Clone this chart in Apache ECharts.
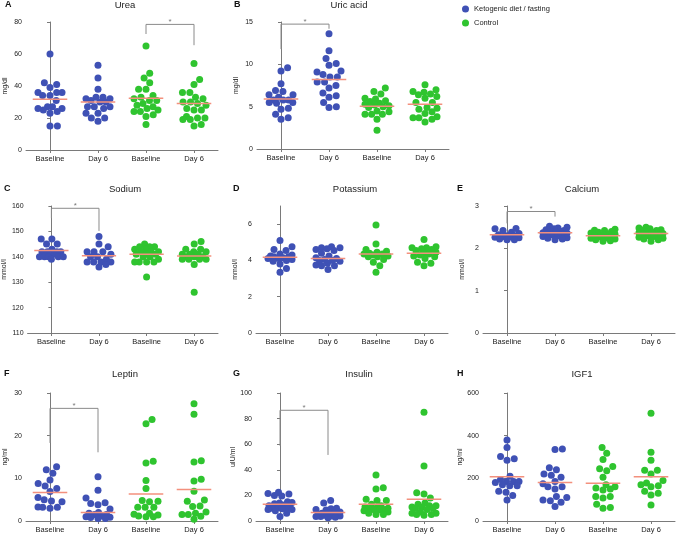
<!DOCTYPE html>
<html><head><meta charset="utf-8">
<script src="https://cdn.jsdelivr.net/npm/echarts@6/dist/echarts.min.js"></script>
<style>html,body{margin:0;padding:0;background:#fff}#c{width:676px;height:535px}</style>
</head><body><div id="c"></div>
<script>
// ---------- data ----------
const categories = ['Baseline', 'Day 6', 'Baseline', 'Day 6'];
const groupNames = ['Ketogenic diet / fasting', 'Control'];

const urea = [
  [60,42,41,39,36,36,36,34,34,31,27,27,26,26,25,24,23,15,15],
  [53,45,38,33,33,32,32,31,30,30,27,27,27,26,23,23,20,20,18],
  [65,48,45,42,38,38,34,33,32,31,31,29,28,27,26,25,24,24,22,21,16],
  [54,44,41,36,36,33,32,30,30,29,28,26,25,25,21,20,20,19,19,16,15]
];
const ureaMeans = [31.7, 30.0, 32.4, 29.0];
const ureaSig = [2, 3, 78.5, 72.5, 65.5];

const uric = [
  [9.6,9.2,7.7,6.9,6.8,6.4,6.4,6.1,5.8,5.8,5.8,5.5,5.5,5.4,4.8,4.7,4.1,3.7,3.5],
  [13.6,11.6,10.7,10.1,9.9,9.2,9.1,8.8,8.5,8.5,7.9,7.9,7.5,7.2,6.6,6.3,6.1,5.5,5.0,4.9],
  [7.2,6.8,6.5,6.0,5.9,5.7,5.6,5.4,5.3,5.2,5.1,5.0,4.9,4.5,4.4,4.1,4.1,4.1,3.5,2.2],
  [7.6,7.0,6.8,6.7,6.5,6.4,6.2,6.0,5.5,5.5,4.9,4.8,4.7,4.4,4.2,3.8,3.7,3.7,3.5,3.2]
];
const uricMeans = [5.9, 8.2, 5.05, 5.3];
const uricSig = [0, 1, 14.75, 11.8, 14.2];

const sodium = [
  [147,147,145,145,143,142,142,142,142,141,140,140,140,140,140,139],
  [148,145,144,142,142,142,141,140,140,139,138,138,138,138,137,136],
  [145,144,144,144,143,143,142,142,142,141,141,141,140,140,139,138,138,138,138,132],
  [146,145,143,143,142,142,141,141,141,140,140,140,139,139,139,139,137,126]
];
const sodiumMeans = [142.5, 140.4, 141, 140.3];
const sodiumSig = [0, 1, 159.1, 155.2, 150.2];

const potassium = [
  [5.1,4.75,4.6,4.55,4.35,4.3,4.25,4.2,4.2,4.15,4.1,4.1,4.05,4.0,3.95,3.8,3.55,3.35],
  [4.75,4.7,4.7,4.65,4.6,4.55,4.4,4.25,4.15,4.1,4.05,4.0,4.0,3.95,3.85,3.75,3.7,3.7,3.5],
  [5.95,4.9,4.6,4.5,4.45,4.4,4.35,4.35,4.3,4.25,4.2,4.2,4.05,3.9,3.7,3.35],
  [5.15,4.75,4.7,4.7,4.65,4.6,4.55,4.45,4.4,4.35,4.3,4.25,4.2,4.1,3.9,3.85,3.7]
];
const potassiumMeans = [4.18, 4.1, 4.35, 4.4];
const potassiumTicks = [0, 2, 4, 6];

const calcium = [
  [2.47,2.46,2.42,2.38,2.35,2.32,2.30,2.30,2.28,2.27,2.26,2.25,2.22,2.20,2.20],
  [2.52,2.50,2.48,2.46,2.44,2.42,2.40,2.40,2.38,2.37,2.36,2.35,2.33,2.32,2.30,2.28,2.25,2.24,2.22,2.20],
  [2.45,2.43,2.42,2.40,2.38,2.36,2.34,2.33,2.31,2.30,2.28,2.27,2.25,2.24,2.22,2.20,2.18,2.17],
  [2.50,2.48,2.46,2.44,2.43,2.42,2.40,2.38,2.37,2.35,2.33,2.32,2.30,2.28,2.26,2.24,2.22,2.20,2.17]
];
const calciumMeans = [2.32, 2.37, 2.30, 2.35];
const calciumSig = [0, 1, 2.87, 2.59, 2.75];

const leptin = [
  [12.7,12.0,11.2,9.6,8.8,8.2,7.6,6.9,5.5,5.0,4.7,4.5,3.3,3.2,3.0,3.2],
  [10.4,7.2,5.4,4.3,4.1,3.8,2.8,2.0,1.8,1.5,1.5,1.2,1.0,0.9,0.8,0.6,0.6],
  [23.8,22.8,14.0,13.6,9.5,7.6,4.8,4.6,4.5,3.2,3.2,3.2,1.8,1.6,1.4,1.2,1.0,1.0],
  [27.5,25.0,14.1,13.8,9.8,9.4,7.0,4.9,4.6,3.5,3.4,2.1,1.8,1.5,1.5,1.1,0.4]
];
const leptinMeans = [6.7, 2.0, 6.3, 7.4];
const leptinSig = [0, 1, 26.4, 18.3, 16.1];

const insulin = [
  [22.5,21.5,21.0,20.0,19.5,15.0,14.5,14.0,13.5,12.5,12.0,11.0,10.5,10.0,10.0,9.5,9.0,9.0,8.0,6.0,3.5],
  [16,14,10,9.5,9,8.5,7,6,6,5.5,5,5,4.5,4,4,3.5,3.5,3.0,2.5],
  [36,26,25,17,16,16,13,12,11,10,10,9.5,9,9,8.5,8,7,6,5,5],
  [85,43,22,21,18,14,13,12,12,11,11,10,10,9,7,6,6,5,5,4.5]
];
const insulinMeans = [13, 6.6, 13, 17];
const insulinSig = [0, 1, 86.5, 58.8, 51.6];

const igf1 = [
  [380,345,302,292,285,210,195,185,185,185,180,170,165,165,140,135,120,98],
  [338,335,250,240,220,215,205,185,175,160,160,150,115,110,98,95,88,68],
  [345,318,288,255,245,235,205,170,160,155,150,145,115,115,108,78,63,60],
  [505,322,285,238,238,220,190,178,170,165,160,140,130,122,75]
];
const igf1Means = [208, 180, 177, 208];

// ---------- layout ----------
const panels = [
  {letter:'A', title:'Urea', unit:'mg/dl', min:0, max:80, interval:20, data:urea, means:ureaMeans, sig:ureaSig,
   grid:{left:26, top:22, width:192, height:128}, tx:125, lx:5, ty:5},
  {letter:'B', title:'Uric acid', unit:'mg/dl', min:0, max:15, interval:5, data:uric, means:uricMeans, sig:uricSig,
   grid:{left:257, top:22, width:192, height:127}, tx:349, lx:234, ty:5},
  {letter:'C', title:'Sodium', unit:'mmol/l', min:110, max:160, interval:10, data:sodium, means:sodiumMeans, sig:sodiumSig,
   grid:{left:26, top:206, width:192, height:127}, tx:125, lx:4, ty:189},
  {letter:'D', title:'Potassium', unit:'mmol/l', min:0, max:7, ticks:potassiumTicks, data:potassium, means:potassiumMeans, sig:null,
   grid:{left:256, top:206, width:192, height:127}, tx:355, lx:233, ty:189},
  {letter:'E', title:'Calcium', unit:'mmol/l', min:0, max:3, interval:1, data:calcium, means:calciumMeans, sig:calciumSig,
   grid:{left:483, top:206, width:192, height:127}, tx:582, lx:457, ty:189},
  {letter:'F', title:'Leptin', unit:'ng/ml', min:0, max:30, interval:10, data:leptin, means:leptinMeans, sig:leptinSig,
   grid:{left:26, top:393, width:192, height:128}, tx:125, lx:4, ty:374},
  {letter:'G', title:'Insulin', unit:'uIU/ml', min:0, max:100, interval:20, data:insulin, means:insulinMeans, sig:insulinSig,
   grid:{left:256, top:393, width:192, height:128}, tx:359, lx:233, ty:374},
  {letter:'H', title:'IGF1', unit:'ng/ml', min:0, max:600, interval:200, data:igf1, means:igf1Means, sig:null,
   grid:{left:483, top:393, width:192, height:128}, tx:582, lx:457, ty:374}
];

const BLUE = '#3F51B5', GREEN = '#2FC42F', MEAN = '#F3907D', AXIS = '#7a7a7a';
const DOT = 7;
const MAXW = 12;   // max horizontal spread of a swarm, px
const FONT = 'Liberation Sans, Arial, sans-serif';

// beeswarm offsets (pixels) computed from values, limited to +-MAXW
function swarm(vals, pxPerUnit, d, maxW) {
  const idx = vals.map((v, i) => i).sort((a, b) => vals[a] - vals[b]);
  const placed = [], xs = new Array(vals.length);
  const minDist = (c, y) => placed.reduce((m, p) => Math.min(m, Math.hypot(p.x - c, p.y - y)), Infinity);
  for (const i of idx) {
    const y = vals[i] * pxPerUnit;
    const cands = [0];
    for (const p of placed) {
      const dy = Math.abs(p.y - y);
      if (dy < d) { const dx = Math.sqrt(d * d - dy * dy); cands.push(p.x + dx, p.x - dx); }
    }
    cands.sort((a, b) => Math.abs(a) - Math.abs(b) || b - a);
    let best = null;
    for (const c of cands) {
      if (Math.abs(c) > maxW + 1e-6) continue;
      if (minDist(c, y) >= d - 1e-6) { best = c; break; }
    }
    if (best === null) {
      let bd = -1;
      for (let c = -maxW; c <= maxW + 1e-6; c += 0.5) {
        const md = minDist(c, y);
        if (md > bd + 1e-6) { bd = md; best = c; }
      }
    }
    placed.push({x: best, y}); xs[i] = best;
  }
  return xs;
}

const grids = [], xAxes = [], yAxes = [], series = [], graphics = [];
panels.forEach((p, k) => {
  grids.push(Object.assign({containLabel:false}, p.grid));
  const catW = p.grid.width / 4;
  xAxes.push({
    gridIndex:k, type:'value', min:-0.5, max:3.5,
    splitLine:{show:false},
    axisLine:{show:true, lineStyle:{color:AXIS, width:1}},
    axisTick:{show:true, length:3, customValues:[0,1,2,3], lineStyle:{color:AXIS}},
    axisLabel:{customValues:[0,1,2,3], formatter:v => categories[Math.round(v)],
      fontSize:7.5, color:'#222', margin:5, fontFamily:FONT}
  });
  const yl = {fontSize:7, color:'#222', margin:4, fontFamily:FONT};
  const yt = {show:true, length:3, lineStyle:{color:AXIS}};
  if (p.ticks) { yl.customValues = p.ticks; yt.customValues = p.ticks; }
  yAxes.push({
    gridIndex:k, type:'value', min:p.min, max:p.max, interval:p.interval,
    name:p.unit, nameLocation:'middle', nameRotate:90, nameGap:17,
    nameTextStyle:{fontSize:7, color:'#222', fontFamily:FONT},
    splitLine:{show:false},
    axisLine:{show:true, lineStyle:{color:AXIS, width:1}},
    axisTick:yt, axisLabel:yl
  });
  const ppu = p.grid.height / (p.max - p.min);
  const pts = [[], []];
  p.data.forEach((vals, g) => {
    const offs = swarm(vals, ppu, DOT + 0.4, MAXW);
    vals.forEach((v, i) => pts[g < 2 ? 0 : 1].push([g + offs[i] / catW, v]));
  });
  [0, 1].forEach(s => series.push({
    type:'scatter', name:groupNames[s], xAxisIndex:k, yAxisIndex:k,
    data:pts[s], symbolSize:DOT, itemStyle:{color:s ? GREEN : BLUE, opacity:1},
    z:2, silent:true
  }));
  p.means.forEach((m, g) => series.push({
    type:'line', xAxisIndex:k, yAxisIndex:k, data:[[g - 0.36, m], [g + 0.36, m]],
    showSymbol:false, symbol:'none', lineStyle:{color:MEAN, width:1.5}, z:3, silent:true
  }));
  if (p.sig) {
    const [a, b, top, la, rb] = p.sig;
    series.push({
      type:'line', xAxisIndex:k, yAxisIndex:k, data:[[a, la], [a, top], [b, top], [b, rb]],
      showSymbol:false, symbol:'none', lineStyle:{color:'#8a8a8a', width:1}, z:1, silent:true
    });
    series.push({
      type:'scatter', xAxisIndex:k, yAxisIndex:k, data:[[(a + b) / 2, top]],
      symbolSize:1, itemStyle:{color:'rgba(0,0,0,0)'}, silent:true,
      label:{show:true, formatter:'*', position:'top', distance:-2, fontSize:8, color:'#555', fontFamily:FONT}
    });
  }
  graphics.push({type:'text', x:p.tx, y:p.ty, style:{text:p.title, fontSize:9.5, fill:'#222',
    fontFamily:FONT, align:'center', verticalAlign:'middle'}});
  graphics.push({type:'text', x:p.lx, y:p.ty, style:{text:p.letter, fontSize:9, fontWeight:'bold',
    fill:'#111', fontFamily:FONT, align:'left', verticalAlign:'middle'}});
});

const chart = echarts.init(document.getElementById('c'), null, {renderer:'canvas'});
chart.setOption({
  backgroundColor:'#fff',
  animation:false,
  grid:grids, xAxis:xAxes, yAxis:yAxes, series:series, graphic:graphics,
  legend:{data:groupNames.map(n => ({name:n, icon:'circle'})), orient:'vertical', left:457, top:0,
    itemWidth:7, itemHeight:7, itemGap:6, selectedMode:false,
    textStyle:{fontSize:7.5, color:'#222', fontFamily:FONT}}
});
</script></body></html>
